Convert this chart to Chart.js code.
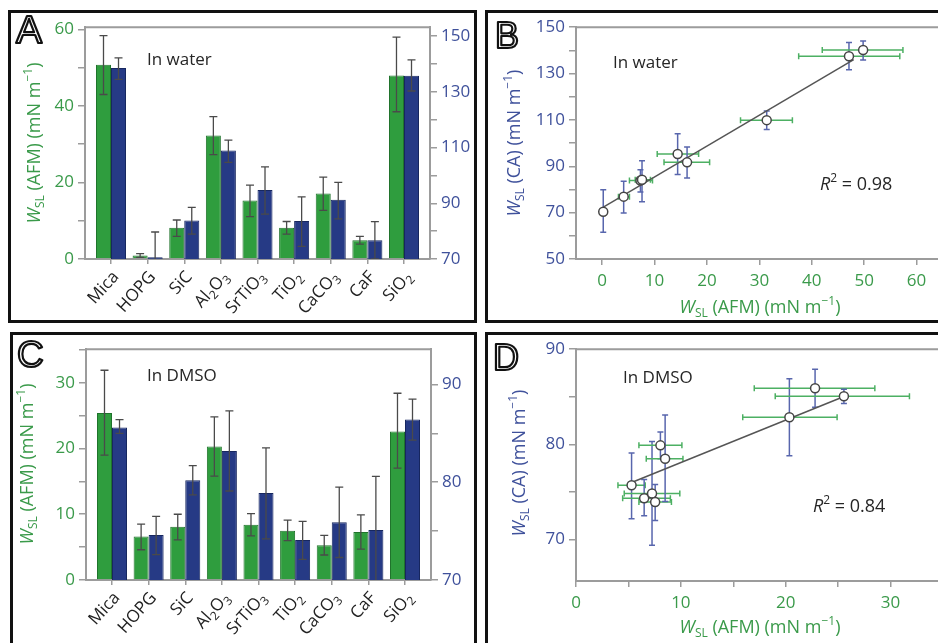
<!DOCTYPE html>
<html>
<head>
<meta charset="utf-8">
<script src="https://cdn.jsdelivr.net/npm/chart.js@4.4.1/dist/chart.umd.min.js"></script>
<style>
  html, body { margin: 0; padding: 0; background: #fff; }
  #page { position: relative; width: 938px; height: 643px; overflow: hidden; background: #fff; }
  .box { position: absolute; box-sizing: border-box; border: 3px solid #111; }
  .box canvas { position: absolute; left: 0; top: 0; }
</style>
</head>
<body>
<div id="page">
  <div class="box" style="left:8px;top:10px;width:469px;height:313px"><canvas id="chartA" width="463" height="307"></canvas></div>
  <div class="box" style="left:485px;top:10px;width:480px;height:313px"><canvas id="chartB" width="474" height="307"></canvas></div>
  <div class="box" style="left:10px;top:332px;width:467px;height:320px"><canvas id="chartC" width="461" height="314"></canvas></div>
  <div class="box" style="left:485px;top:332px;width:480px;height:320px"><canvas id="chartD" width="474" height="314"></canvas></div>
</div>
<script>
const FONT = '"Open Sans", "DejaVu Sans", sans-serif';
const GREEN = "#2f9d3e", GREEN_EDGE = "#20732c";
const BLUE = "#263a85", BLUE_EDGE = "#17275f";
const GREEN_TXT = "#3a9a4a", BLUE_TXT = "#3f519b";
const AXIS = "#9c9c9c";
const SLANT = 48 * Math.PI / 180;

// digits in the formulas are drawn as subscripts
const materials = ["Mica", "HOPG", "SiC", "Al2O3", "SrTiO3", "TiO2", "CaCO3", "CaF", "SiO2"];

// water: W_SL from AFM (left axis) and from contact angle (right axis)
const afmWater   = [50.8, 0.9, 8.2, 32.3, 15.3, 8.2, 17.1, 4.9, 48.0];
const afmWaterLo = [43.0, 0.4, 5.9, 27.3, 11.1, 6.5, 12.7, 3.9, 38.5];
const afmWaterHi = [58.4, 1.4, 10.2, 37.2, 19.3, 9.8, 21.4, 5.9, 58.0];
const caWater    = [138.6, 70.6, 83.8, 108.9, 94.8, 83.6, 91.3, 76.7, 135.8];
const caWaterLo  = [134.5, 61.5, 78.9, 104.7, 86.1, 74.5, 84.4, 70.0, 130.3];
const caWaterHi  = [142.2, 79.7, 88.5, 112.7, 103.1, 92.3, 97.5, 83.4, 141.5];

// water: CA vs AFM correlation
const corrWaterX   = [0.2, 4.1, 7.3, 7.6, 14.4, 16.2, 31.4, 47.1, 49.8];
const corrWaterY   = [70.4, 76.9, 83.9, 84.2, 95.3, 91.7, 109.9, 137.5, 140.2];
const corrWaterXLo = [-0.2, 3.1, 5.2, 6.3, 10.5, 11.8, 26.4, 37.5, 42.0];
const corrWaterXHi = [0.6, 5.2, 9.6, 9.2, 18.4, 20.5, 36.3, 56.8, 57.4];
const corrWaterYLo = [61.5, 69.8, 78.9, 74.7, 86.5, 84.9, 105.9, 131.6, 135.9];
const corrWaterYHi = [79.9, 83.5, 88.5, 92.4, 104.0, 98.3, 113.9, 143.4, 144.0];
const fitWaterX = [0.3, 48.0];
const fitWaterY = [72.5, 136.0];

// DMSO
const afmDmso   = [25.4, 6.6, 8.1, 20.3, 8.4, 7.5, 5.3, 7.3, 22.6];
const afmDmsoLo = [19.0, 4.6, 6.1, 15.8, 6.7, 6.0, 3.8, 4.7, 17.0];
const afmDmsoHi = [31.9, 8.5, 10.0, 24.8, 10.1, 9.1, 6.8, 9.9, 28.4];
const caDmso    = [85.6, 74.6, 80.2, 83.2, 78.9, 74.1, 75.9, 75.1, 86.4];
const caDmsoLo  = [85.0, 72.6, 78.7, 79.1, 74.2, 72.1, 72.3, 69.8, 84.3];
const caDmsoHi  = [86.4, 76.5, 81.7, 87.3, 83.5, 76.0, 79.5, 80.6, 88.5];

const corrDmsoX   = [5.3, 6.5, 7.25, 7.55, 8.05, 8.5, 20.35, 22.8, 25.55];
const corrDmsoY   = [75.7, 74.35, 74.85, 73.95, 79.9, 78.5, 82.85, 85.9, 85.05];
const corrDmsoXLo = [4.0, 4.45, 4.6, 6.0, 6.0, 6.7, 15.9, 17.0, 19.0];
const corrDmsoXHi = [6.6, 9.0, 9.9, 9.1, 10.1, 10.2, 24.9, 28.5, 31.8];
const corrDmsoYLo = [72.2, 72.5, 69.4, 72.0, 78.5, 74.0, 78.8, 83.9, 84.3];
const corrDmsoYHi = [79.1, 76.3, 80.3, 75.8, 81.3, 83.1, 86.9, 87.9, 85.8];
const fitDmsoX = [5.3, 25.5];
const fitDmsoY = [76.0, 85.0];

const wslAfm = [{ t: "W", italic: true }, { t: "SL", sub: true }, { t: " (AFM) (mN m" }, { t: "−1", sup: true }, { t: ")" }];
const wslCa  = [{ t: "W", italic: true }, { t: "SL", sub: true }, { t: " (CA) (mN m" }, { t: "−1", sup: true }, { t: ")" }];

function formulaParts(name) {
  return (name.match(/[0-9]+|[^0-9]+/g) || []).map(s => (/^[0-9]/.test(s) ? { t: s, sub: true } : { t: s }));
}

function fontFor(p, size) {
  return `${p.italic ? "italic " : ""}${(p.sub || p.sup) ? Math.round(size * 0.68) : size}px ${FONT}`;
}

function richWidth(ctx, parts, size) {
  let w = 0;
  parts.forEach(p => { ctx.font = fontFor(p, size); w += ctx.measureText(p.t).width; });
  return w;
}

// text with italic / sub / superscript runs
function drawRich(ctx, parts, x, y, o) {
  const size = o.size || 17;
  ctx.save();
  if (o.rot) {
    const c = Math.cos(o.rot), s = Math.sin(o.rot);
    ctx.transform(c, s, -s, c, x, y);
  } else {
    ctx.translate(x, y);
  }
  const w = richWidth(ctx, parts, size);
  let cx = o.align === "left" ? 0 : o.align === "right" ? -w : -w / 2;
  ctx.fillStyle = o.color || "#222";
  ctx.textBaseline = "middle";
  ctx.textAlign = "left";
  parts.forEach(p => {
    ctx.font = fontFor(p, size);
    const dy = p.sub ? size * 0.32 : p.sup ? -size * 0.33 : 0;
    ctx.fillText(p.t, cx, dy);
    cx += ctx.measureText(p.t).width;
  });
  ctx.restore();
}

function drawErrorBars(chart) {
  const ctx = chart.ctx, a = chart.chartArea;
  ctx.save();
  ctx.beginPath();
  ctx.rect(a.left, a.top, a.right - a.left, a.bottom - a.top);
  ctx.clip();
  chart.data.datasets.forEach((ds, di) => {
    const meta = chart.getDatasetMeta(di);
    const xs = chart.scales[meta.xAxisID], ys = chart.scales[meta.yAxisID];
    meta.data.forEach((el, i) => {
      if (ds.errX) {
        const x1 = xs.getPixelForValue(ds.errX.lo[i]), x2 = xs.getPixelForValue(ds.errX.hi[i]);
        ctx.strokeStyle = ds.errX.color; ctx.lineWidth = ds.errX.width;
        ctx.beginPath();
        ctx.moveTo(x1, el.y); ctx.lineTo(x2, el.y);
        ctx.moveTo(x1, el.y - ds.errX.cap); ctx.lineTo(x1, el.y + ds.errX.cap);
        ctx.moveTo(x2, el.y - ds.errX.cap); ctx.lineTo(x2, el.y + ds.errX.cap);
        ctx.stroke();
      }
      if (ds.errY) {
        const y1 = ys.getPixelForValue(ds.errY.lo[i]), y2 = ys.getPixelForValue(ds.errY.hi[i]);
        ctx.strokeStyle = ds.errY.color; ctx.lineWidth = ds.errY.width;
        ctx.beginPath();
        ctx.moveTo(el.x, y1); ctx.lineTo(el.x, y2);
        ctx.moveTo(el.x - ds.errY.cap, y1); ctx.lineTo(el.x + ds.errY.cap, y1);
        ctx.moveTo(el.x - ds.errY.cap, y2); ctx.lineTo(el.x + ds.errY.cap, y2);
        ctx.stroke();
      }
    });
  });
  ctx.restore();
}

function errorBarsPlugin(under) {
  return {
    id: "errorBars",
    beforeDatasetsDraw(chart) { if (under) drawErrorBars(chart); },
    afterDatasetsDraw(chart) { if (!under) drawErrorBars(chart); }
  };
}

// panel letter, plot frame, slanted category names and free text
function decorPlugin(cfg) {
  return {
    id: "decor",
    beforeDatasetsDraw(chart) {
      const ctx = chart.ctx, a = chart.chartArea;
      ctx.save();
      ctx.strokeStyle = AXIS; ctx.lineWidth = 2;
      ctx.beginPath();
      ctx.moveTo(a.left, a.top); ctx.lineTo(a.right, a.top); ctx.lineTo(a.right, a.bottom);
      ctx.stroke();
      ctx.restore();
    },
    afterDraw(chart) {
      const ctx = chart.ctx;
      ctx.save();
      ctx.font = `${cfg.letterSize}px "Liberation Sans", Arial, sans-serif`;
      ctx.textBaseline = "alphabetic";
      ctx.textAlign = "left";
      ctx.strokeStyle = "#111";
      ctx.lineWidth = 2.2;
      ctx.lineJoin = "round";
      ctx.strokeText(cfg.letter, cfg.letterX, cfg.letterY);
      ctx.restore();
      if (cfg.categories) {
        const xs = chart.scales.x, bottom = chart.chartArea.bottom;
        xs.ticks.forEach(t => {
          drawRich(ctx, formulaParts(materials[t.value]), xs.getPixelForValue(t.value) + 5, bottom + 15,
            { align: "right", rot: -SLANT, size: 17, color: "#222" });
        });
      }
      cfg.texts.forEach(t => drawRich(ctx, t.parts, t.x, t.y, t));
    }
  };
}

function fixed(prop, v) { return s => { s[prop] = v; }; }
function stepTicks(step, from) {
  return s => {
    const out = [];
    const lo = from !== undefined ? Math.max(from, s.min) : s.min;
    for (let v = Math.ceil(lo / step - 1e-9) * step; v <= s.max + 1e-9; v += step) out.push({ value: +v.toFixed(6) });
    s.ticks = out;
  };
}

function valueAxis(pos, min, max, step, labelEvery, base, width, color) {
  return {
    position: pos, min, max,
    afterBuildTicks: stepTicks(step),
    afterFit: fixed("width", width),
    ticks: {
      autoSkip: false, color, padding: 4,
      font: { family: FONT, size: 17 },
      callback: v => (Math.abs((v - base) % labelEvery) < 1e-6 ? v : "")
    },
    grid: { drawOnChartArea: false, drawTicks: true, tickLength: 7, color: AXIS, lineWidth: 1.5 },
    border: { color: AXIS, width: 2 }
  };
}

function barChart(id, d) {
  return new Chart(document.getElementById(id), {
    type: "bar",
    data: {
      datasets: [
        {
          label: "AFM", yAxisID: "yL",
          data: d.afm.map((v, i) => ({ x: i, y: v })),
          backgroundColor: GREEN, borderColor: GREEN_EDGE, borderWidth: 1,
          categoryPercentage: 0.82, barPercentage: 1,
          errY: { lo: d.afmLo, hi: d.afmHi, color: "#4a4a4a", width: 1.3, cap: 4 }
        },
        {
          label: "CA", yAxisID: "yR",
          data: d.ca.map((v, i) => ({ x: i, y: v })),
          backgroundColor: BLUE, borderColor: BLUE_EDGE, borderWidth: 1,
          categoryPercentage: 0.82, barPercentage: 1,
          errY: { lo: d.caLo, hi: d.caHi, color: "#4a4a4a", width: 1.3, cap: 4 }
        }
      ]
    },
    options: {
      responsive: false, animation: false, devicePixelRatio: 1,
      layout: { padding: { top: d.top, left: 0, right: 0, bottom: 0 } },
      plugins: { legend: { display: false }, tooltip: { enabled: false } },
      scales: {
        x: {
          type: "linear", min: -0.71, max: 8.71, offset: false,
          afterBuildTicks: s => { s.ticks = materials.map((m, i) => ({ value: i })); },
          afterFit: fixed("height", d.xHeight),
          ticks: { display: false },
          grid: { offset: false, drawOnChartArea: false, drawTicks: true, tickLength: 5, color: AXIS, lineWidth: 1.5 },
          border: { color: AXIS, width: 2 }
        },
        yL: valueAxis("left", d.left[0], d.left[1], d.left[2], d.left[3], 0, d.leftW, GREEN_TXT),
        yR: valueAxis("right", d.right[0], d.right[1], d.right[2], d.right[3], d.right[0], d.rightW, BLUE_TXT)
      }
    },
    plugins: [errorBarsPlugin(false), decorPlugin(d.decor)]
  });
}

function corrChart(id, d) {
  return new Chart(document.getElementById(id), {
    type: "scatter",
    data: {
      datasets: [
        {
          label: "surfaces",
          data: d.x.map((v, i) => ({ x: v, y: d.y[i] })),
          pointRadius: 4.5, pointBackgroundColor: "#fff", pointBorderColor: "#454545", pointBorderWidth: 1.5,
          errX: { lo: d.xLo, hi: d.xHi, color: "#4db063", width: 1.5, cap: 3 },
          errY: { lo: d.yLo, hi: d.yHi, color: "#5866ad", width: 1.5, cap: 3 }
        },
        {
          label: "fit",
          data: d.fitX.map((v, i) => ({ x: v, y: d.fitY[i] })),
          showLine: true, pointRadius: 0, borderColor: "#555", borderWidth: 1.5
        }
      ]
    },
    options: {
      responsive: false, animation: false, devicePixelRatio: 1,
      layout: { padding: { top: d.top, left: 0, right: d.right, bottom: 0 } },
      plugins: { legend: { display: false }, tooltip: { enabled: false } },
      scales: {
        x: {
          type: "linear", min: d.xr[0], max: d.xr[1],
          afterBuildTicks: stepTicks(d.xr[2], 0),
          afterFit: fixed("height", d.xHeight),
          ticks: {
            autoSkip: false, color: GREEN_TXT, padding: 6,
            font: { family: FONT, size: 17 },
            callback: v => (Math.abs(v % d.xr[3]) < 1e-6 ? v : "")
          },
          grid: { drawOnChartArea: false, drawTicks: true, tickLength: 6, color: AXIS, lineWidth: 1.5 },
          border: { color: AXIS, width: 2 }
        },
        y: valueAxis("left", d.yr[0], d.yr[1], d.yr[2], d.yr[3], d.yr[4], d.yW, BLUE_TXT)
      }
    },
    plugins: [errorBarsPlugin(true), decorPlugin(d.decor)]
  });
}

barChart("chartA", {
  afm: afmWater, afmLo: afmWaterLo, afmHi: afmWaterHi,
  ca: caWater, caLo: caWaterLo, caHi: caWaterHi,
  left: [0, 60.6, 10, 20], right: [70, 153.2, 10, 20],
  top: 14, xHeight: 61, leftW: 74, rightW: 44,
  decor: {
    letter: "A", letterSize: 39, letterX: 5, letterY: 30, categories: materials,
    texts: [
      { parts: [{ t: "In water" }], x: 136, y: 47, align: "left", size: 17, color: "#262626" },
      { parts: wslAfm, x: 24, y: 130, rot: -Math.PI / 2, size: 18, color: GREEN_TXT }
    ]
  }
});

corrChart("chartB", {
  x: corrWaterX, y: corrWaterY, xLo: corrWaterXLo, xHi: corrWaterXHi, yLo: corrWaterYLo, yHi: corrWaterYHi,
  fitX: fitWaterX, fitY: fitWaterY,
  xr: [-5, 66, 10, 10], yr: [50, 150, 10, 20, 50],
  top: 14, right: 14, xHeight: 61, yW: 88,
  decor: {
    letter: "B", letterSize: 36, letterX: 7, letterY: 35,
    texts: [
      { parts: [{ t: "In water" }], x: 125, y: 50, align: "left", size: 17, color: "#262626" },
      { parts: [{ t: "R", italic: true }, { t: "2", sup: true }, { t: " = 0.98" }], x: 332, y: 172, align: "left", size: 18, color: "#262626" },
      { parts: wslCa, x: 27, y: 130, rot: -Math.PI / 2, size: 18, color: BLUE_TXT },
      { parts: wslAfm, x: 272, y: 295, size: 18, color: GREEN_TXT }
    ]
  }
});

barChart("chartC", {
  afm: afmDmso, afmLo: afmDmsoLo, afmHi: afmDmsoHi,
  ca: caDmso, caLo: caDmsoLo, caHi: caDmsoHi,
  left: [0, 35.1, 5, 10], right: [70, 93.6, 5, 10],
  top: 13, xHeight: 69, leftW: 73, rightW: 43,
  decor: {
    letter: "C", letterSize: 37, letterX: 4, letterY: 32, categories: materials,
    texts: [
      { parts: [{ t: "In DMSO" }], x: 134, y: 41, align: "left", size: 17, color: "#262626" },
      { parts: wslAfm, x: 15, y: 129, rot: -Math.PI / 2, size: 18, color: GREEN_TXT }
    ]
  }
});

corrChart("chartD", {
  x: corrDmsoX, y: corrDmsoY, xLo: corrDmsoXLo, xHi: corrDmsoXHi, yLo: corrDmsoYLo, yHi: corrDmsoYHi,
  fitX: fitDmsoX, fitY: fitDmsoY,
  xr: [0, 35, 5, 10], yr: [65.65, 90, 5, 10, 70],
  top: 13, right: 19, xHeight: 68, yW: 88,
  decor: {
    letter: "D", letterSize: 36, letterX: 5, letterY: 35,
    texts: [
      { parts: [{ t: "In DMSO" }], x: 135, y: 43, align: "left", size: 17, color: "#262626" },
      { parts: [{ t: "R", italic: true }, { t: "2", sup: true }, { t: " = 0.84" }], x: 325, y: 172, align: "left", size: 18, color: "#262626" },
      { parts: wslCa, x: 32, y: 128, rot: -Math.PI / 2, size: 18, color: BLUE_TXT },
      { parts: wslAfm, x: 272, y: 293, size: 18, color: GREEN_TXT }
    ]
  }
});
</script>
</body>
</html>
